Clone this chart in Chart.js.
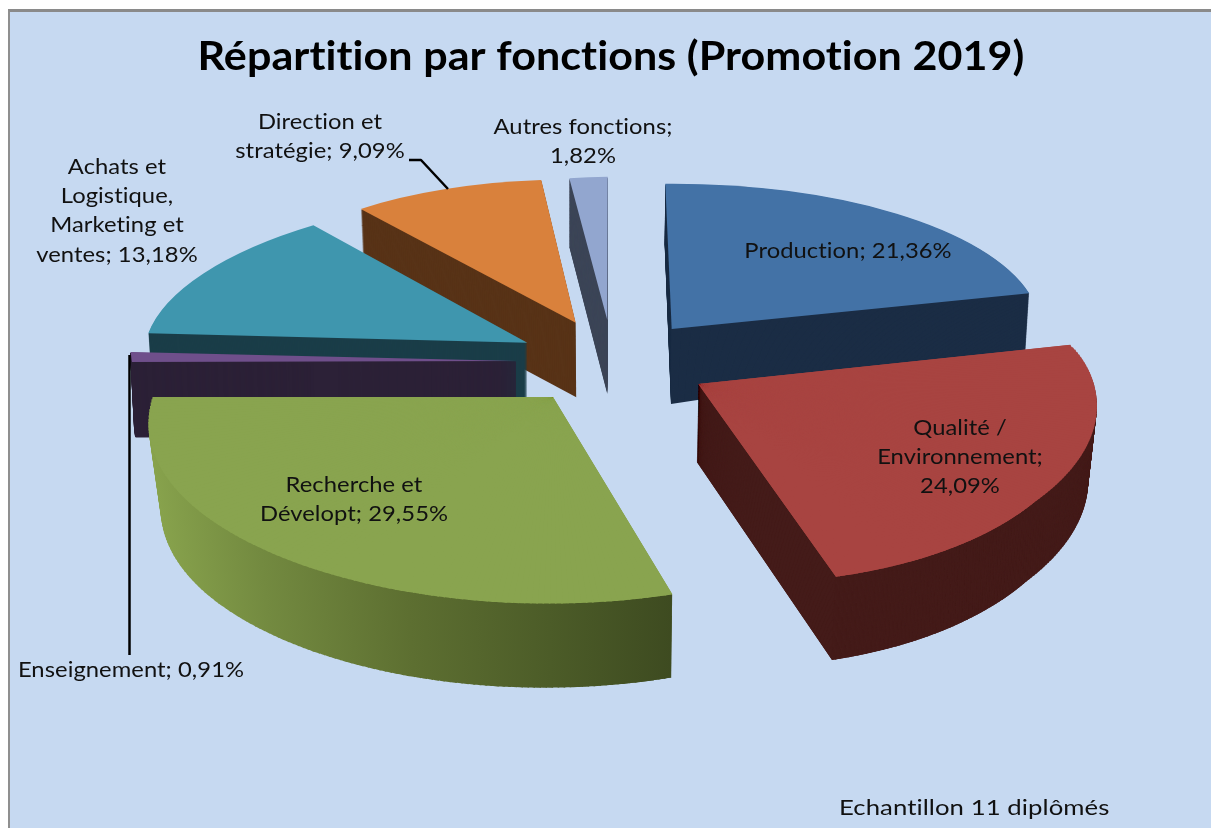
<!DOCTYPE html>
<html lang="fr">
<head>
<meta charset="utf-8">
<title>Répartition par fonctions (Promotion 2019)</title>
<script src="https://cdn.jsdelivr.net/npm/chart.js@4/dist/chart.umd.min.js"></script>
<style>
html,body{margin:0;padding:0;background:#fff;overflow:hidden;width:1211px;height:828px}
#panel{position:absolute;left:8px;top:9px;right:0;bottom:0;background:#c6d9f1;border-top:3px solid #8a8a8a;border-left:2px solid #8f8f8f}
canvas{position:absolute;left:0;top:0}
</style>
</head>
<body>
<div id="panel"></div>
<canvas id="c" width="1211" height="828"></canvas>
<script>
const categories = ["Production","Qualité / Environnement","Recherche et Dévelopt","Enseignement","Achats et Logistique, Marketing et ventes","Direction et stratégie","Autres fonctions"];
const shares = [21.36,24.09,29.55,0.91,13.18,9.09,1.82];
const topColours = ["#4372a6","#a84441","#89a44f","#6f4f8b","#3f96ae","#d9813c","#92a6cf"];
const wallColours = ["#1b2d45","#441b19","#4d5e28","#2c2137","#1a3d48","#583317","#3c4557"];
const titleText = "Répartition par fonctions (Promotion 2019)";
const noteText = "Echantillon 11 diplômés";

/* projection of each exploded slice: linear map + position of its apex, radial correction of the rim (perspective), and change of the map at the bottom of the wall */
const sliceViews = [
 {a:368.6,b:-2.85,c:6.4,d:145.3,e:671.7,f:329,wall:{da:-3,db:-15,dc:0,dd:15,de:-0.7,df:75}},
 {a:387.8,b:6.2,c:29.5,d:199,e:698.3,f:384,rim:{bulge:0.025,power:0.685,cut:0.55},wall:{da:-7,db:-3,dc:-0.4,dd:6.7,de:-1.6,df:77.7}},
 {a:400,b:0,c:6.8,d:205.7,e:553,f:397,rim:{bulge:0.052,power:2,cut:1},wall:{da:-12,db:-3,dc:2.5,dd:0,de:0,df:84}},
 {a:384,b:-1,c:31,d:175,e:516,f:361,wallBorder:2,wall:{da:-4,db:0,dc:0,dd:0,de:0,df:75}},
 {a:381.7,b:0.76,c:-35.8,d:151.1,e:527.3,f:342.7,wall:{da:-4,db:0,dc:0,dd:0,de:0,df:62}},
 {a:345.8,b:4.8,c:-5.07,d:143,e:575.7,f:322.7,wall:{da:-4,db:0,dc:0,dd:0,de:0.6,df:74.6}},
 {a:336.5,b:-6.1,c:-0.4,d:143.3,e:607.3,f:320,wall:{da:0,db:0,dc:0,dd:5.3,de:0,df:74}}
];
const paintOrder = [6,5,4,3,0,2,1];
const wallGradient = {slice:2,from:150,to:672,stops:[[0,"#87a24c"],[0.2,"#738a40"],[0.48,"#5d6f31"],[0.75,"#4c5c28"],[1,"#3d4a20"]]};

const labelBlocks = [
 {lines:["Production; 21,36%"],x:848,y:251},
 {lines:["Qualité /","Environnement;","24,09%"],x:960,y:428},
 {lines:["Recherche et","Dévelopt; 29,55%"],x:354,y:485},
 {lines:["Enseignement; 0,91%"],x:131,y:670},
 {lines:["Achats et","Logistique,","Marketing et","ventes; 13,18%"],x:117,y:167},
 {lines:["Direction et","stratégie; 9,09%"],x:320,y:122},
 {lines:["Autres fonctions;","1,82%"],x:583,y:127}
];
const leaders = [
 [[129.5,655],[129.5,355]],
 [[409,160],[421,160],[448,189]]
];
const LABEL_FONT = '21.5px Lato, "Open Sans", sans-serif';
const LABEL_STRETCH = 1.105;
const NOTE_FONT = '22px Lato, "Open Sans", sans-serif';
const NOTE_STRETCH = 1.17;
const TITLE_FONT = 'bold 39.5px Lato, "Open Sans", sans-serif';
const TITLE_STRETCH = 1.09;

function rimFactor(view, t){
  const rim = view.rim;
  if(!rim) return 1;
  const s = Math.min(t/rim.cut, 1);
  return 1 + rim.bulge*Math.sin(Math.PI*Math.pow(s, rim.power));
}

function drawSlice(ctx, el, view, t, fill, border){
  const R = el.outerRadius, w = view.wall;
  const m = [view.a+w.da*t, view.b+w.db*t, view.c+w.dc*t, view.d+w.dd*t, view.e+w.de*t, view.f+w.df*t];
  ctx.save();
  ctx.translate(m[4], m[5]);
  ctx.transform(m[0]/R, m[1]/R, m[2]/R, m[3]/R, 0, 0);
  ctx.translate(-el.x, -el.y);
  const options = Object.assign({}, el.options, {backgroundColor:fill, borderWidth:border||0, borderColor:fill, offset:0, spacing:0});
  const base = Object.create(el);
  base.options = options;
  base.draw(ctx);
  if(view.rim){
    const steps = 120, span = el.endAngle - el.startAngle;
    for(let i=0;i<steps;i++){
      const s = el.startAngle + span*i/steps;
      const e = Math.min(el.endAngle, el.startAngle + span*(i+1)/steps + 0.004);
      const ghost = Object.create(el);
      ghost.startAngle = s; ghost.endAngle = e; ghost.circumference = e-s;
      ghost.outerRadius = R*rimFactor(view,(i+0.5)/steps);
      ghost.options = options;
      ghost.draw(ctx);
    }
  }
  ctx.restore();
}

function stretchedText(ctx, text, x, y, stretch){
  ctx.save();
  ctx.translate(x,y);
  ctx.scale(stretch,1);
  ctx.fillText(text,0,0);
  ctx.restore();
}

const pie3d = {
  id:"pie3d",
  beforeDatasetDraw(){ return false; },
  beforeDatasetsDraw(chart){
    const ctx = chart.ctx, meta = chart.getDatasetMeta(0);
    paintOrder.forEach(i=>{
      const el = meta.data[i], view = sliceViews[i];
      let wall = wallColours[i];
      if(wallGradient.slice===i){
        const R = el.outerRadius;
        const g = ctx.createLinearGradient(el.x+(wallGradient.from-view.e)*R/view.a,0,el.x+(wallGradient.to-view.e)*R/view.a,0);
        wallGradient.stops.forEach(s=>g.addColorStop(s[0],s[1]));
        wall = g;
      }
      const layers = Math.ceil(view.wall.df);
      for(let k=layers;k>=1;k--) drawSlice(ctx, el, view, k/layers, wall, view.wallBorder);
      drawSlice(ctx, el, view, 0, topColours[i]);
    });
  },
  afterDatasetsDraw(chart){
    const ctx = chart.ctx;
    ctx.save();
    ctx.strokeStyle="#000"; ctx.lineWidth=2.5; ctx.lineJoin="round";
    leaders.forEach(l=>{ctx.beginPath();l.forEach((p,i)=>i?ctx.lineTo(p[0],p[1]):ctx.moveTo(p[0],p[1]));ctx.stroke();});
    ctx.textAlign="center"; ctx.textBaseline="middle"; ctx.fillStyle="#111";
    ctx.letterSpacing="0.05px";
    ctx.font=LABEL_FONT;
    labelBlocks.forEach(b=>b.lines.forEach((s,i)=>stretchedText(ctx,s,b.x,b.y+i*29.2,LABEL_STRETCH)));
    ctx.textAlign="left"; ctx.font=NOTE_FONT;
    stretchedText(ctx,noteText,839,808,NOTE_STRETCH);
    ctx.textAlign="center"; ctx.fillStyle="#000"; ctx.font=TITLE_FONT;
    stretchedText(ctx,titleText,611,57,TITLE_STRETCH);
    ctx.restore();
  }
};

new Chart(document.getElementById("c"),{
  type:"pie",
  data:{labels:categories,datasets:[{data:shares,backgroundColor:topColours,borderWidth:0}]},
  options:{responsive:false,animation:false,layout:{padding:0},plugins:{legend:{display:false},tooltip:{enabled:false}}},
  plugins:[pie3d]
});
</script>
</body>
</html>
